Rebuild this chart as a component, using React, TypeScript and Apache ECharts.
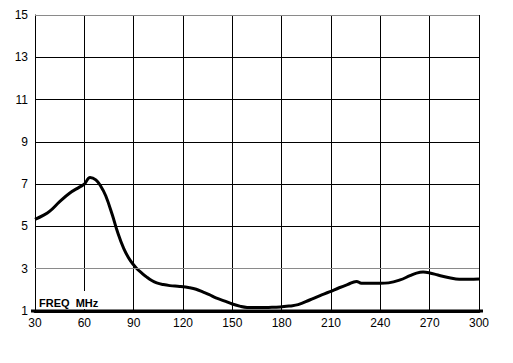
import React, { useEffect, useRef } from "react";
import * as echarts from "echarts";

const freqMHz = [30, 35, 39, 45, 51, 57, 60, 63.5, 67, 70, 73, 77, 80, 84, 88, 92, 95, 98, 101, 104, 108, 112, 118, 124, 128, 132, 136, 140, 145, 150, 155, 159, 166, 172, 179, 185, 190, 197, 203, 209, 215, 220, 225.5, 228.5, 234, 240, 245, 252, 258, 262, 266, 270, 275, 282, 288, 294, 300];
const vswr = [5.33, 5.52, 5.72, 6.17, 6.57, 6.86, 7.0, 7.32, 7.2, 6.9, 6.45, 5.55, 4.78, 3.95, 3.38, 3.0, 2.79, 2.6, 2.44, 2.33, 2.25, 2.2, 2.16, 2.1, 2.03, 1.9, 1.77, 1.62, 1.48, 1.33, 1.22, 1.17, 1.16, 1.17, 1.19, 1.24, 1.3, 1.52, 1.72, 1.9, 2.1, 2.25, 2.4, 2.31, 2.31, 2.31, 2.33, 2.47, 2.67, 2.79, 2.84, 2.8, 2.7, 2.57, 2.5, 2.5, 2.51];
const yGridValues = [3, 5, 7, 9, 11, 13, 15];
const grayGridValues = [3, 15];
const axisTitle = "FREQ  MHz";

const labelFont = "'Liberation Sans Narrow', 'Arial Narrow', 'Liberation Sans', Arial, sans-serif";

export default function App() {
  const ref = useRef<HTMLDivElement>(null);
  useEffect(() => {
    if (!ref.current) return;
    const chart = echarts.init(ref.current, undefined, { renderer: "svg" });
    chart.setOption({
      animation: false,
      backgroundColor: "#fff",
      grid: { left: 35, top: 15, right: 34, bottom: 52, containLabel: false },
      xAxis: {
        type: "value",
        min: 30,
        max: 300,
        interval: 30,
        axisLine: { show: true, lineStyle: { color: "#000", width: 3 } },
        axisTick: { show: false },
        axisLabel: { color: "#000", fontSize: 12, fontFamily: labelFont, margin: 6 },
        splitLine: { show: true, lineStyle: { color: "#000", width: 1 } },
      },
      yAxis: {
        type: "value",
        min: 1,
        max: 15,
        interval: 1,
        axisLine: { show: true, lineStyle: { color: "#000", width: 1 } },
        axisTick: { show: false },
        axisLabel: {
          color: "#000",
          fontSize: 12,
          fontFamily: labelFont,
          margin: 7,
          formatter: (v: number) => (Math.round(v) % 2 === 1 ? String(v) : ""),
        },
        splitLine: { show: false },
      },
      series: [
        {
          type: "line",
          data: [],
          z: 1,
          silent: true,
          markLine: {
            silent: true,
            symbol: ["none", "none"],
            label: { show: false },
            emphasis: { disabled: true },
            data: yGridValues.map((v) => ({
              yAxis: v,
              lineStyle: {
                color: grayGridValues.includes(v) ? "#8a8a8a" : "#000",
                width: 1,
                type: "solid",
              },
            })),
          },
        },
        {
          type: "line",
          z: 3,
          data: freqMHz.map((f, i) => [f, vswr[i]]),
          smooth: 0.4,
          showSymbol: false,
          symbol: "none",
          lineStyle: { color: "#000", width: 3 },
        },
      ],
      graphic: [
        {
          type: "line",
          shape: { x1: 31, y1: 311, x2: 483, y2: 311 },
          style: { stroke: "#000", lineWidth: 3 },
          z: 9,
        },
        {
          type: "rect",
          shape: { x: 37, y: 291, width: 56, height: 18 },
          style: { fill: "#fff" },
          z: 10,
        },
        {
          type: "text",
          x: 39,
          y: 303,
          style: {
            text: axisTitle,
            fill: "#000",
            font: "bold 11px " + labelFont,
            textVerticalAlign: "middle",
          },
          z: 11,
        },
      ],
    });
    return () => chart.dispose();
  }, []);
  return <div ref={ref} style={{ width: 513, height: 363, position: "absolute", left: 0, top: 0 }} />;
}
